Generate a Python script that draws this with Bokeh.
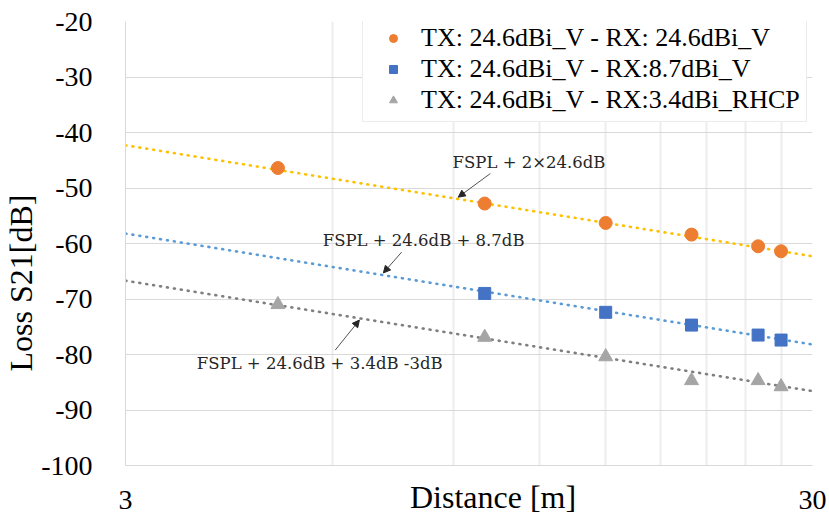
from bokeh.plotting import figure
from bokeh.models import (Arrow, NormalHead, FixedTicker, Legend, LegendItem, Label,
                          Range1d, BasicTickFormatter, Title)
from bokeh.embed import file_html
from bokeh.resources import INLINE

# ---------------- data ----------------
dist_a = [5, 10, 15, 20, 25, 27]
loss_vv = [-46.4, -52.8, -56.3, -58.4, -60.5, -61.4]

dist_b = [10, 15, 20, 25, 27]
loss_v87 = [-69.0, -72.4, -74.7, -76.5, -77.4]

dist_c = [5, 10, 15, 20, 25, 27]
loss_rhcp = [-71.0, -76.9, -80.4, -84.7, -84.7, -85.8]

trend_x = [3, 30]
trend_vv = [-42.3, -62.3]
trend_v87 = [-58.2, -78.2]
trend_rhcp = [-66.7, -86.6]

series_names = ["TX: 24.6dBi_V - RX: 24.6dBi_V",
                "TX: 24.6dBi_V - RX:8.7dBi_V",
                "TX: 24.6dBi_V - RX:3.4dBi_RHCP"]

y_ticks = [-100, -90, -80, -70, -60, -50, -40, -30, -20]
y_tick_labels = ["-100", "-90", "-80", "-70", "-60", "-50", "-40", "-30", "-20"]
x_ticks = [3, 30]
x_minor = [6, 9, 12, 15, 18, 21, 24, 27]

ann_texts = ["FSPL + 2\u00d724.6dB", "FSPL + 24.6dB + 8.7dB", "FSPL + 24.6dB + 3.4dB -3dB"]

# ---------------- figure ----------------
SERIF = "Liberation Serif"
p = figure(width=829, height=520, x_axis_type="log",
           x_range=Range1d(3, 30), y_range=Range1d(-100, -20),
           output_backend="svg", toolbar_location=None,
           min_border_left=123, min_border_right=17,
           min_border_top=21, min_border_bottom=55)
p.outline_line_color = None
p.background_fill_color = "white"

# axes
p.yaxis.ticker = FixedTicker(ticks=y_ticks)
p.yaxis.major_label_overrides = {t: s for t, s in zip(y_ticks, y_tick_labels)}
p.xaxis.ticker = FixedTicker(ticks=x_ticks, minor_ticks=x_minor)
p.xaxis.formatter = BasicTickFormatter()
for ax in (p.xaxis[0], p.yaxis[0]):
    ax.axis_line_color = "#D9D9D9"
    ax.major_tick_line_color = None
    ax.minor_tick_line_color = None
    ax.major_label_text_font = SERIF
    ax.major_label_text_font_size = "28px"
    ax.major_label_text_color = "black"
p.yaxis.major_label_standoff = 27
p.xaxis.major_label_standoff = 19

# x axis title sits on the same row as the tick labels
p.xaxis.axis_label = "\u00a0" * 6 + "Distance [m]"
p.xaxis.axis_label_text_font = SERIF
p.xaxis.axis_label_text_font_size = "32px"
p.xaxis.axis_label_text_font_style = "normal"
p.xaxis.axis_label_text_color = "black"
p.xaxis.axis_label_standoff = -33

# y axis title as a side title, anchored near the bottom like the reference
p.add_layout(Title(text="Loss S21[dB]", align="left", offset=94, standoff=0,
                   text_font=SERIF, text_font_size="32px", text_font_style="normal",
                   text_color="black"), "left")

# grids
p.ygrid.ticker = FixedTicker(ticks=y_ticks)
p.ygrid.grid_line_color = "#D9D9D9"
p.ygrid.grid_line_width = 1
p.xgrid.ticker = FixedTicker(ticks=x_ticks, minor_ticks=x_minor)
p.xgrid.grid_line_color = "#D9D9D9"
p.xgrid.minor_grid_line_color = "#EDEDED"
p.xgrid.minor_grid_line_width = 2

# trend lines (dotted)
for ys, col in ((trend_vv, "#FFC000"), (trend_v87, "#5B9BD5"), (trend_rhcp, "#7F7F7F")):
    p.line(trend_x, ys, line_color=col, line_width=2.6, line_dash="1 6", line_cap="round")

# markers
r1 = p.scatter(dist_a, loss_vv, marker="circle", size=13, fill_color="#ED7D31", line_color="#ED7D31")
r2 = p.scatter(dist_b, loss_v87, marker="square", size=12, fill_color="#4472C4", line_color="#4472C4")
r3 = p.scatter(dist_c, loss_rhcp, marker="triangle", size=14, fill_color="#A5A5A5", line_color="#A5A5A5")

legend = Legend(items=[LegendItem(label=series_names[0], renderers=[r1]),
                       LegendItem(label=series_names[1], renderers=[r2]),
                       LegendItem(label=series_names[2], renderers=[r3])],
                location=(237, 343), margin=0, padding=6, spacing=1,
                glyph_width=48, glyph_height=20, label_standoff=4, label_height=29,
                label_text_font=SERIF, label_text_font_size="26px",
                label_text_color="black",
                border_line_color="#D9D9D9", background_fill_color="white",
                background_fill_alpha=1.0)
p.add_layout(legend)

# annotations
ANN = "DejaVu Serif"
ann_pos = [(8.98, -45.4), (5.81, -59.4), (3.81, -81.6)]
arrows = [((10.19, -47.4), (9.15, -51.65)),
          ((7.57, -61.55), (7.12, -65.3)),
          ((6.06, -79.2), (6.57, -73.8))]
for txt, (ax_, ay_) in zip(ann_texts, ann_pos):
    p.add_layout(Label(x=ax_, y=ay_, text=txt, text_font=ANN, text_font_size="16.5px",
                       text_color="#262626", text_align="left", text_baseline="middle"))
for (s, e) in arrows:
    p.add_layout(Arrow(x_start=s[0], y_start=s[1], x_end=e[0], y_end=e[1],
                       line_color="#262626", line_width=0.8,
                       end=NormalHead(size=7, fill_color="#262626", line_color="#262626")))

open("out.html", "w").write(file_html(p, INLINE))
